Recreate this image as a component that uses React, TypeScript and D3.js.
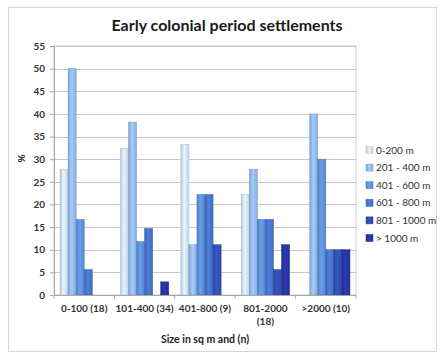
import { useEffect, useRef } from 'react';
import * as d3 from 'd3';

// categories (each label may wrap to two lines)
const categories = ['0-100 (18)', '101-400 (34)', '401-800 (9)', '801-2000 (18)', '>2000 (10)'];
const categoryLines = [['0-100 (18)'], ['101-400 (34)'], ['401-800 (9)'], ['801-2000', '(18)'], ['>2000 (10)']];

const seriesNames = ['0-200 m', '201 - 400 m', '401 - 600 m', '601 - 800 m', '801 - 1000 m', '> 1000 m'];
const seriesColors = ['#c9dbf1', '#8fb4e2', '#5a8dd3', '#4470c6', '#2f4db0', '#25339f'];

// percentages per series, one value per category
const s0200 = [27.8, 32.4, 33.3, 22.2, 0];
const s201400 = [50, 38.2, 11.1, 27.8, 40];
const s401600 = [16.7, 11.8, 22.2, 16.7, 30];
const s601800 = [5.6, 14.7, 22.2, 16.7, 10];
const s8011000 = [0, 0, 11.1, 5.6, 10];
const s1000 = [0, 2.9, 0, 11.1, 10];
const seriesValues = [s0200, s201400, s401600, s601800, s8011000, s1000];

const yTicks = [0, 5, 10, 15, 20, 25, 30, 35, 40, 45, 50, 55];

export default function App() {
  const ref = useRef<SVGSVGElement>(null);

  useEffect(() => {
    if (!ref.current) return;
    const svg = d3.select(ref.current);
    svg.selectAll('*').remove();

    const font = 'Lato, "Open Sans", sans-serif';
    const left = 54, right = 356, top = 46, bottom = 295;

    // outer frame
    svg.append('rect')
      .attr('x', 8.5).attr('y', 7.5)
      .attr('width', 428).attr('height', 344)
      .attr('fill', '#fff')
      .attr('stroke', '#d6d6d6');

    // gradients
    const defs = svg.append('defs');
    seriesColors.forEach((c, i) => {
      const g = defs.append('linearGradient').attr('id', `grad${i}`)
        .attr('x1', 0).attr('x2', 1).attr('y1', 0).attr('y2', 0);
      const base = d3.color(c)!;
      g.append('stop').attr('offset', '0%').attr('stop-color', base.darker(0.25).toString());
      g.append('stop').attr('offset', '45%').attr('stop-color', base.brighter(0.35).toString());
      g.append('stop').attr('offset', '100%').attr('stop-color', base.darker(0.15).toString());
    });

    const x = d3.scaleBand<string>()
      .domain(categories)
      .range([left, right]);

    const inner = d3.scaleBand<number>()
      .domain(d3.range(seriesNames.length))
      .range([0, x.bandwidth()])
      .paddingOuter(0.75)
      .paddingInner(0);

    const y = d3.scaleLinear()
      .domain([0, 55])
      .range([bottom, top]);

    // plot area border
    svg.append('rect')
      .attr('x', left).attr('y', top)
      .attr('width', right - left).attr('height', bottom - top)
      .attr('fill', 'none')
      .attr('stroke', '#cfcfcf');

    // gridlines
    svg.append('g')
      .selectAll('line')
      .data(yTicks.filter(t => t > 0))
      .enter()
      .append('line')
      .attr('x1', left).attr('x2', right)
      .attr('y1', d => Math.round(y(d)) + 0.5)
      .attr('y2', d => Math.round(y(d)) + 0.5)
      .attr('stroke', '#cdc3c3')
      .attr('stroke-width', 1);

    // bars
    seriesValues.forEach((vals, si) => {
      svg.append('g')
        .selectAll('rect')
        .data(vals.map((v, ci) => ({ v, c: categories[ci] })))
        .enter()
        .filter(d => d.v > 0)
        .append('rect')
        .attr('x', d => (x(d.c) as number) + (inner(si) as number))
        .attr('y', d => y(d.v))
        .attr('width', inner.bandwidth())
        .attr('height', d => bottom - y(d.v))
        .attr('fill', `url(#grad${si})`)
        .attr('stroke', d3.color(seriesColors[si])!.darker(0.4).toString())
        .attr('stroke-width', 0.5);
    });

    // y axis
    const yAxis = svg.append('g')
      .attr('transform', `translate(${left},0)`)
      .call(d3.axisLeft(y).tickValues(yTicks).tickSize(4).tickPadding(5));
    yAxis.select('.domain').attr('stroke', '#a8a8a8');
    yAxis.selectAll('.tick line').attr('stroke', '#a8a8a8');
    yAxis.selectAll('.tick text')
      .attr('font-family', font)
      .attr('font-size', 10)
      .attr('font-weight', 'bold')
      .attr('fill', '#333');

    // x axis
    svg.append('line')
      .attr('x1', left).attr('x2', right)
      .attr('y1', bottom + 0.5).attr('y2', bottom + 0.5)
      .attr('stroke', '#a8a8a8');
    svg.append('g')
      .selectAll('line')
      .data(categories.concat(['end']))
      .enter()
      .append('line')
      .attr('x1', (d, i) => left + i * x.step())
      .attr('x2', (d, i) => left + i * x.step())
      .attr('y1', bottom).attr('y2', bottom + 4)
      .attr('stroke', '#a8a8a8');

    const xl = svg.append('g');
    categoryLines.forEach((lines, i) => {
      const t = xl.append('text')
        .attr('x', (x(categories[i]) as number) + x.bandwidth() / 2)
        .attr('y', 312)
        .attr('text-anchor', 'middle')
        .attr('font-family', font)
        .attr('font-size', 10)
        .attr('font-weight', 'bold')
        .attr('fill', '#333');
      lines.forEach((ln, j) => {
        t.append('tspan')
          .attr('x', (x(categories[i]) as number) + x.bandwidth() / 2)
          .attr('dy', j === 0 ? 0 : 13)
          .text(ln);
      });
    });

    // axis titles
    svg.append('text')
      .attr('x', 205).attr('y', 343)
      .attr('text-anchor', 'middle')
      .attr('font-family', font)
      .attr('font-size', 10.5)
      .attr('font-weight', 'bold')
      .attr('fill', '#222')
      .text('Size in sq m and (n)');

    svg.append('text')
      .attr('transform', `translate(25,${(top + bottom) / 2 - 12}) rotate(-90)`)
      .attr('text-anchor', 'middle')
      .attr('font-family', font)
      .attr('font-size', 10)
      .attr('font-weight', 'bold')
      .attr('fill', '#222')
      .text('%');

    // title
    svg.append('text')
      .attr('x', 227).attr('y', 31)
      .attr('text-anchor', 'middle')
      .attr('font-family', font)
      .attr('font-size', 16)
      .attr('font-weight', 'bold')
      .attr('fill', '#1a1a1a')
      .text('Early colonial period settlements');

    // legend
    const legend = svg.append('g');
    seriesNames.forEach((name, i) => {
      const ly = 150 + i * 17.6;
      legend.append('rect')
        .attr('x', 366).attr('y', ly - 3.5)
        .attr('width', 7).attr('height', 7)
        .attr('fill', `url(#grad${i})`)
        .attr('stroke', d3.color(seriesColors[i])!.darker(0.4).toString())
        .attr('stroke-width', 0.5);
      legend.append('text')
        .attr('x', 376).attr('y', ly + 3.5)
        .attr('font-family', font)
        .attr('font-size', 10)
        .attr('fill', '#333')
        .text(name);
    });
  }, []);

  return (
    <svg ref={ref} width={441} height={354}
      style={{ position: 'absolute', left: 0, top: 0, background: '#fff' }} />
  );
}
